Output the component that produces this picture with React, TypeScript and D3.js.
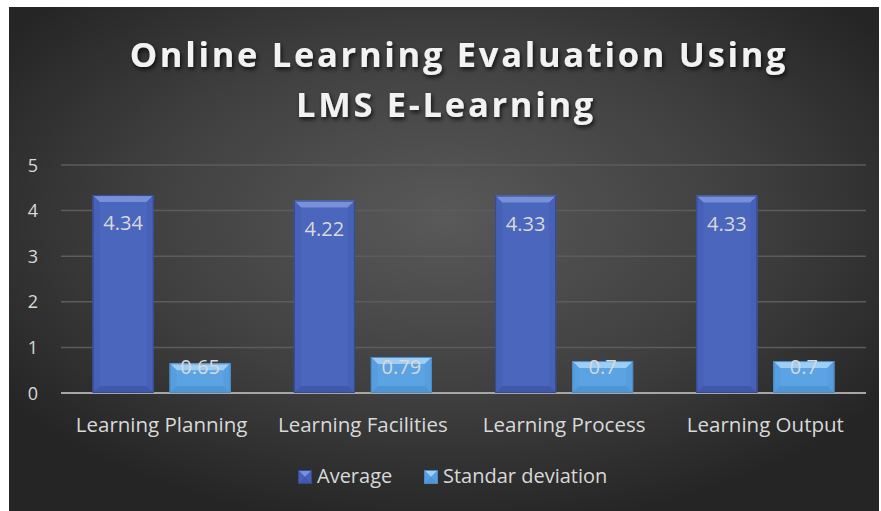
import React from "react";
import * as d3 from "d3";

const categories = ["Learning Planning", "Learning Facilities", "Learning Process", "Learning Output"];
const seriesNames = ["Average", "Standar deviation"];
const averageValues = [4.34, 4.22, 4.33, 4.33];
const stdValues = [0.65, 0.79, 0.7, 0.7];
const yTicks = [0, 1, 2, 3, 4, 5];
const titleLines = ["Online Learning Evaluation Using", "LMS E-Learning"];

const W = 881;
const H = 511;
const FONT = "'Open Sans', Lato, sans-serif";

const seriesStyle = [
  { main: "#4a66bd", light: "#7d95dc", dark: "#3a53a3", side: "#4560b5", border: "#34498f" },
  { main: "#5ba3e3", light: "#a3d3f7", dark: "#4a8fcf", side: "#559cdd", border: "#4a8ac6" },
];

function Bar({ x, y, w, h, s }: { x: number; y: number; w: number; h: number; s: any }) {
  const b = Math.min(7, h / 2, w / 2);
  return (
    <g>
      <rect x={x} y={y} width={w} height={h} fill={s.main} />
      <polygon points={`${x},${y} ${x + w},${y} ${x + w - b},${y + b} ${x + b},${y + b}`} fill={s.light} opacity={0.9} />
      <polygon points={`${x},${y} ${x + b},${y + b} ${x + b},${y + h - b} ${x},${y + h}`} fill={s.side} opacity={0.8} />
      <polygon points={`${x + w},${y} ${x + w - b},${y + b} ${x + w - b},${y + h - b} ${x + w},${y + h}`} fill={s.side} opacity={0.8} />
      <polygon points={`${x},${y + h} ${x + b},${y + h - b} ${x + w - b},${y + h - b} ${x + w},${y + h}`} fill={s.dark} opacity={0.7} />
      <rect x={x + 0.5} y={y + 0.5} width={w - 1} height={h - 1} fill="none" stroke={s.border} strokeWidth={1} />
    </g>
  );
}

export default function App() {
  const plotLeft = 61;
  const plotRight = 866;
  const y = d3.scaleLinear().domain([0, 5]).range([393, 165]);
  const x0 = d3.scaleBand<string>().domain(categories).range([plotLeft, plotRight]).paddingInner(0).paddingOuter(0);
  const groupW = x0.bandwidth();
  const barW = 61;
  const gap = 16;
  const x1 = d3
    .scaleOrdinal<string, number>()
    .domain(seriesNames)
    .range([groupW / 2 - gap / 2 - barW, groupW / 2 + gap / 2]);
  const seriesValues = [averageValues, stdValues];
  const titleX = [459, 446];

  return (
    <svg width={W} height={H} style={{ position: "absolute", left: 0, top: 0 }}>
      <defs>
        <radialGradient id="bg" cx="50%" cy="42%" r="62%" fx="50%" fy="42%">
          <stop offset="0%" stopColor="#595959" />
          <stop offset="55%" stopColor="#404040" />
          <stop offset="100%" stopColor="#252525" />
        </radialGradient>
        <filter id="tshadow" x="-10%" y="-30%" width="120%" height="160%">
          <feDropShadow dx="1.5" dy="2.5" stdDeviation="2" floodColor="#000" floodOpacity="0.75" />
        </filter>
      </defs>
      <rect x={0} y={0} width={W} height={H} fill="#ffffff" />
      <rect x={9} y={7} width={870} height={H - 7} fill="url(#bg)" />

      <g filter="url(#tshadow)">
        {titleLines.map((t, i) => (
          <text
            key={i}
            x={titleX[i]}
            y={67 + i * 50}
            textAnchor="middle"
            fill="#f2f2f2"
            fontFamily={FONT}
            fontWeight={700}
            fontSize={34.5}
            letterSpacing={2.7}
          >
            {t}
          </text>
        ))}
      </g>

      {yTicks.map((t) => (
        <line
          key={t}
          x1={plotLeft}
          x2={plotRight}
          y1={y(t)}
          y2={y(t)}
          stroke={t === 0 ? "#a6a6a6" : "#5c5c5c"}
          strokeWidth={t === 0 ? 2 : 1.5}
        />
      ))}
      {yTicks.map((t) => (
        <text
          key={"l" + t}
          x={33}
          y={y(t) + 6.5}
          textAnchor="middle"
          fill="#d9d9d9"
          fontFamily={FONT}
          fontSize={18}
        >
          {t}
        </text>
      ))}

      {categories.map((c, ci) => (
        <g key={c}>
          {seriesNames.map((sn, si) => {
            const v = seriesValues[si][ci];
            const bx = (x0(c) as number) + (x1(sn) as number);
            const by = y(v);
            const bh = y(0) - by;
            return <Bar key={sn} x={bx} y={by} w={barW} h={bh} s={seriesStyle[si]} />;
          })}
        </g>
      ))}
      {categories.map((c, ci) =>
        seriesNames.map((sn, si) => {
          const v = seriesValues[si][ci];
          const bx = (x0(c) as number) + (x1(sn) as number);
          const by = y(v);
          const ly = Math.min(by + 35, y(0) - 19);
          return (
            <text
              key={c + sn}
              x={bx + barW / 2}
              y={ly}
              textAnchor="middle"
              fill="#d9d9d9"
              fontFamily={FONT}
              fontSize={20}
            >
              {String(v)}
            </text>
          );
        })
      )}

      {categories.map((c) => (
        <text
          key={"c" + c}
          x={(x0(c) as number) + groupW / 2}
          y={432}
          textAnchor="middle"
          fill="#d9d9d9"
          fontFamily={FONT}
          fontSize={20.5}
        >
          {c}
        </text>
      ))}

      {seriesNames.map((sn, si) => {
        const lx = [298, 424][si];
        return (
          <g key={"lg" + sn}>
            <Bar x={lx} y={470} w={14} h={14} s={seriesStyle[si]} />
            <text x={lx + 19} y={483} fill="#d9d9d9" fontFamily={FONT} fontSize={20}>
              {sn}
            </text>
          </g>
        );
      })}
    </svg>
  );
}
